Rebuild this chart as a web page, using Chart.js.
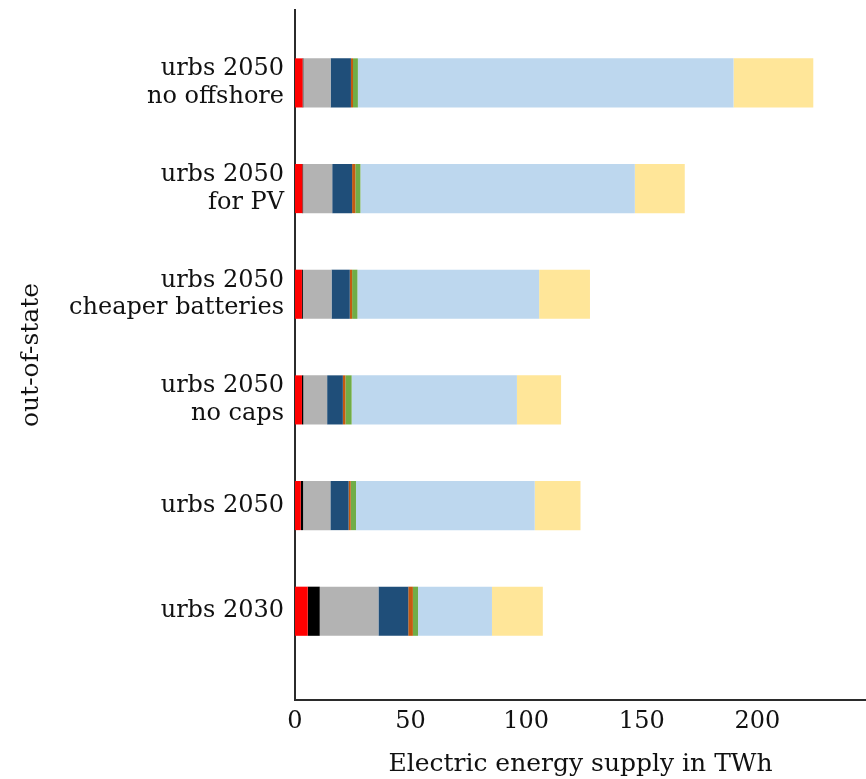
<!DOCTYPE html>
<html>
<head>
<meta charset="utf-8">
<script src="https://cdn.jsdelivr.net/npm/chart.js@4/dist/chart.umd.min.js"></script>
<style>
  html, body { margin: 0; padding: 0; background: #ffffff; }
  #wrap { width: 866px; height: 779px; }
</style>
</head>
<body>
<div id="wrap"><canvas id="c" width="866" height="779"></canvas></div>
<script>
// Scenarios, bottom to top
const scenarios = [
  ["urbs 2030"],
  ["urbs 2050"],
  ["urbs 2050", "no caps"],
  ["urbs 2050", "cheaper batteries"],
  ["urbs 2050", "for PV"],
  ["urbs 2050", "no offshore"]
];
const xTicks = [0, 50, 100, 150, 200];

// Energy supply per source in TWh (same order as scenarios)
const sourceRed       = [5.5, 2.5, 3.0, 3.0, 3.2, 3.3];
const sourceBlack     = [5.2, 1.0, 0.6, 0.4, 0.3, 0.3];
const sourceGrey      = [25.4, 11.8, 10.3, 12.4, 12.6, 11.8];
const sourceDarkBlue  = [12.9, 7.9, 6.8, 7.9, 8.6, 8.8];
const sourceOrange    = [2.0, 0.9, 1.1, 1.0, 1.4, 0.9];
const sourceGreen     = [2.2, 2.3, 2.7, 2.3, 2.2, 2.1];
const sourceLightBlue = [32.0, 77.3, 71.5, 78.6, 118.7, 162.5];
const sourceYellow    = [22.0, 19.8, 19.1, 22.0, 21.6, 34.5];

const seriesList = [
  { label: "Red",        data: sourceRed,       color: "#ff0000" },
  { label: "Black",      data: sourceBlack,     color: "#000000" },
  { label: "Grey",       data: sourceGrey,      color: "#b3b3b3" },
  { label: "Dark blue",  data: sourceDarkBlue,  color: "#1f4e79" },
  { label: "Orange",     data: sourceOrange,    color: "#c55a11" },
  { label: "Green",      data: sourceGreen,     color: "#70ad47" },
  { label: "Light blue", data: sourceLightBlue, color: "#bdd7ee" },
  { label: "Yellow",     data: sourceYellow,    color: "#ffe699" }
];

const serif = "'DejaVu Serif', 'Liberation Serif', serif";
const axisColor = "#2b2b2b";

new Chart(document.getElementById("c"), {
  type: "bar",
  data: {
    datasets: seriesList.map(s => ({
      label: s.label,
      data: s.data.map((v, i) => ({ x: v, y: i })),
      backgroundColor: s.color,
      borderWidth: 0,
      barPercentage: 0.465,
      categoryPercentage: 1.0
    }))
  },
  options: {
    indexAxis: "y",
    responsive: false,
    animation: false,
    layout: { padding: { left: 9, right: 0, top: 10, bottom: 0 } },
    plugins: {
      legend: { display: false },
      tooltip: { enabled: false }
    },
    scales: {
      x: {
        type: "linear",
        stacked: true,
        min: 0,
        max: 247,
        offset: false,
        grid: { display: false, drawTicks: false },
        border: { display: true, color: axisColor, width: 2 },
        afterBuildTicks: (scale) => { scale.ticks = xTicks.map(v => ({ value: v })); },
        ticks: { color: "#111", font: { family: serif, size: 24 }, padding: 7 },
        title: {
          display: true,
          text: "Electric energy supply in TWh",
          color: "#111",
          font: { family: serif, size: 25 },
          padding: { top: 9, bottom: 0 }
        },
        afterFit: (scale) => { scale.height = 79; scale.paddingLeft = 0; scale.paddingRight = 0; }
      },
      y: {
        type: "linear",
        stacked: true,
        min: -0.84,
        max: 5.69,
        offset: false,
        grid: { display: false, drawTicks: false, offset: false },
        border: { display: true, color: axisColor, width: 2 },
        afterBuildTicks: (scale) => { scale.ticks = scenarios.map((_, i) => ({ value: i })); },
        ticks: {
          color: "#111",
          font: { family: serif, size: 24, lineHeight: 1.15 },
          padding: 11,
          callback: (v) => scenarios[v]
        },
        title: {
          display: true,
          text: "out-of-state",
          color: "#111",
          font: { family: serif, size: 25 },
          padding: { top: 7, bottom: 0 }
        },
        afterFit: (scale) => { scale.width = 286; scale.paddingTop = 0; scale.paddingBottom = 0; }
      }
    }
  }
});
</script>
</body>
</html>
